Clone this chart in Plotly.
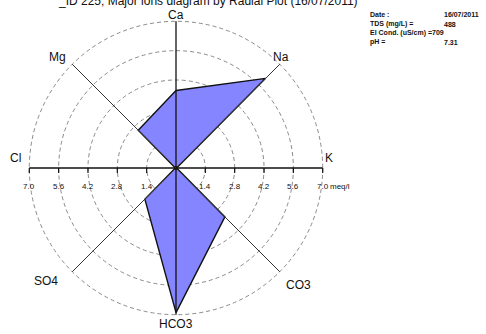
import numpy as np
import plotly.graph_objects as go

# ---- data ----
ions = ["Ca", "Na", "K", "CO3", "HCO3", "SO4", "Cl", "Mg"]
angles_deg = [90, 45, 0, -45, -90, -135, 180, 135]
values = [3.7, 6.05, 0.03, 3.3, 6.9, 2.1, 0.03, 2.55]
ring_values = [1.4, 2.8, 4.2, 5.6, 7.0]
tick_labels = ["1.4", "2.8", "4.2", "5.6", "7.0"]
info_keys = ["Date :", "TDS (mg/L) =", "El Cond. (uS/cm) =709", "pH ="]
info_vals = ["16/07/2011", "488", "", "7.31"]
title_text = "_ID 225; Major ions diagram by Radial Plot (16/07/2011)"

W, H = 486, 334
cx_px, cy_px = 176, 168
scale = 146.7 / 7.0  # px per meq/l
RMAX = 7.0

xr = [-cx_px / scale, (W - cx_px) / scale]
yr = [-(H - cy_px) / scale, cy_px / scale]

ang = np.radians(angles_deg)
vx = np.array(values) * np.cos(ang)
vy = np.array(values) * np.sin(ang)

fig = go.Figure()

shapes = []
# dashed rings
for r in ring_values:
    shapes.append(dict(type="circle", xref="x", yref="y", x0=-r, x1=r, y0=-r, y1=r,
                       line=dict(color="#8a8a8a", width=1, dash="4px,3px"), layer="below"))

fig.add_trace(go.Scatter(x=list(vx) + [vx[0]], y=list(vy) + [vy[0]], mode="lines",
                         fill="toself", fillcolor="#8585ff",
                         line=dict(color="#111111", width=1.4), hoverinfo="skip"))

# spokes
for a, name in zip(ang, ions):
    x1, y1 = RMAX * np.cos(a), RMAX * np.sin(a)
    diag = abs(np.cos(a)) > 0.1 and abs(np.sin(a)) > 0.1
    shapes.append(dict(type="line", xref="x", yref="y", x0=0, y0=0, x1=x1, y1=y1,
                       line=dict(color="#333333" if diag else "#111111", width=1 if diag else 1.3)))

# tick marks on horizontal axis
tk = 5 / scale
for r in ring_values:
    for s in (-1, 1):
        shapes.append(dict(type="line", xref="x", yref="y", x0=s * r, x1=s * r, y0=0, y1=-tk,
                           line=dict(color="#111111", width=1.2)))

fig.add_trace(go.Scatter(x=[0], y=[0], mode="markers", marker=dict(color="black", size=4),
                         hoverinfo="skip"))

ann = []
font_lab = dict(family="Liberation Sans, Arial", size=12, color="#111111")
label_pos = {
    "Ca": (176, 15), "Na": (281, 57), "K": (329, 158), "CO3": (298, 285),
    "HCO3": (176, 324), "SO4": (46, 281), "Cl": (15, 158), "Mg": (57, 57),
}
for name in ions:
    px, py = label_pos[name]
    ann.append(dict(x=px / W, y=1 - py / H, xref="paper", yref="paper", text=name,
                    showarrow=False, font=font_lab, xanchor="center", yanchor="middle"))

font_tick = dict(family="Liberation Sans, Arial", size=8, color="#111111")
ty = -(186 - cy_px) / scale
for r, t in zip(ring_values, tick_labels):
    ann.append(dict(x=-r, y=ty, xref="x", yref="y", text=t, showarrow=False,
                    font=font_tick, xanchor="center", yanchor="middle"))
    ann.append(dict(x=r, y=ty, xref="x", yref="y", text=t, showarrow=False,
                    font=font_tick, xanchor="center", yanchor="middle"))
ann.append(dict(x=RMAX + 0.25, y=ty, xref="x", yref="y", text="meq/l", showarrow=False,
                font=font_tick, xanchor="left", yanchor="middle"))

# title (partly cut at the top edge, as in the reference)
ann.append(dict(x=360 / W, y=1 - 1.5 / H, xref="paper", yref="paper", text=title_text,
                showarrow=False, font=dict(family="Liberation Sans, Arial", size=12, color="#111111"),
                xanchor="right", yanchor="middle"))

# info box
font_info = dict(family="Liberation Sans, Arial", size=7, color="#111111")
rows_y = [15, 24, 33, 42]
for k, v, yy in zip(info_keys, info_vals, rows_y):
    ann.append(dict(x=368 / W, y=1 - yy / H, xref="paper", yref="paper", text="<b>" + k + "</b>",
                    showarrow=False, font=font_info, xanchor="left", yanchor="middle"))
    if v:
        ann.append(dict(x=442 / W, y=1 - yy / H, xref="paper", yref="paper", text="<b>" + v + "</b>",
                        showarrow=False, font=font_info, xanchor="left", yanchor="middle"))

fig.update_layout(
    width=W, height=H, margin=dict(l=0, r=0, t=0, b=0),
    paper_bgcolor="white", plot_bgcolor="white", showlegend=False,
    xaxis=dict(range=xr, visible=False, fixedrange=True),
    yaxis=dict(range=yr, visible=False, fixedrange=True),
    shapes=shapes, annotations=ann,
)
fig.write_html("out.html", config={"displayModeBar": False},
               post_script="document.body.style.margin='0';document.body.style.overflow='hidden';")
